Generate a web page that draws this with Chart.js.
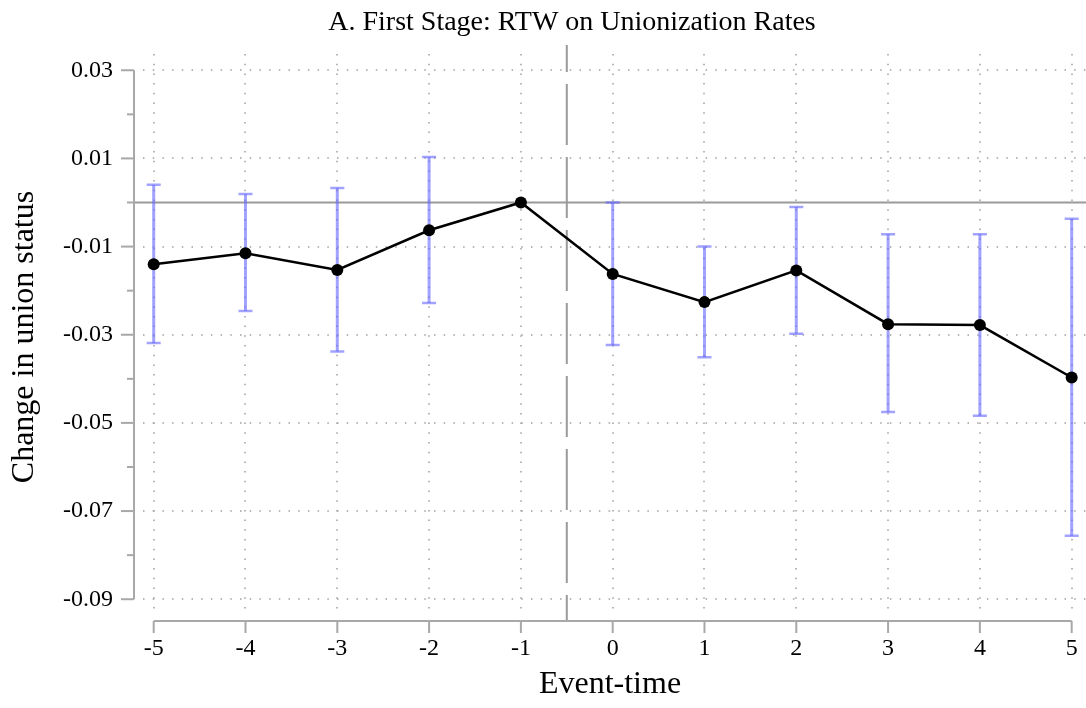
<!DOCTYPE html>
<html>
<head>
<meta charset="utf-8">
<script src="https://cdn.jsdelivr.net/npm/chart.js@4/dist/chart.umd.min.js"></script>
<style>
  html, body { margin: 0; padding: 0; background: #fff; }
  #wrap { width: 1086px; height: 708px; }
</style>
</head>
<body>
<div id="wrap"><canvas id="eventChart" width="1086" height="708"></canvas></div>
<script>
// Event-study estimates
const eventTime = [-5, -4, -3, -2, -1, 0, 1, 2, 3, 4, 5];
const coef      = [-0.0140, -0.0115, -0.0153, -0.0063, 0.0, -0.0162, -0.0226, -0.0154, -0.0276, -0.0278, -0.0397];
const ciHigh    = [0.0040, 0.0019, 0.0033, 0.0103, null, 0.0000, -0.0100, -0.0010, -0.0072, -0.0072, -0.0037];
const ciLow     = [-0.0319, -0.0246, -0.0338, -0.0228, null, -0.0323, -0.0351, -0.0298, -0.0475, -0.0484, -0.0756];

const yMajorTicks = [0.03, 0.01, -0.01, -0.03, -0.05, -0.07, -0.09];
const yMinorTicks = [0.02, 0.0, -0.02, -0.04, -0.06, -0.08];
const treatmentLine = -0.5;

const chartTitle = 'A. First Stage: RTW on Unionization Rates';

const serif = '"Liberation Serif", "Times New Roman", serif';
const axisGrey = '#a8a8a8';

// grid, reference lines, axes and error bars (all placed through the scales)
const decorations = {
    id: 'decorations',
    beforeDatasetsDraw(chart) {
        const ctx = chart.ctx;
        const area = chart.chartArea;
        const xs = chart.scales.x;
        const ys = chart.scales.y;
        ctx.save();

        // dotted grid
        ctx.strokeStyle = '#a0a0a0';
        ctx.lineWidth = 1.5;
        ctx.setLineDash([1.5, 8.2]);
        eventTime.forEach(function (t) {
            const px = Math.round(xs.getPixelForValue(t));
            ctx.beginPath();
            ctx.moveTo(px, area.top + 9);
            ctx.lineTo(px, area.bottom - 10);
            ctx.stroke();
        });
        yMajorTicks.forEach(function (v) {
            const py = Math.round(ys.getPixelForValue(v));
            ctx.beginPath();
            ctx.moveTo(area.left + 9, py);
            ctx.lineTo(area.right, py);
            ctx.stroke();
        });
        ctx.setLineDash([]);

        // zero line
        ctx.strokeStyle = '#9a9a9a';
        ctx.lineWidth = 2;
        const zeroY = ys.getPixelForValue(0);
        ctx.beginPath();
        ctx.moveTo(area.left, zeroY);
        ctx.lineTo(area.right, zeroY);
        ctx.stroke();

        // treatment timing (dashed)
        const dx = xs.getPixelForValue(treatmentLine);
        ctx.setLineDash([61, 12]);
        ctx.lineDashOffset = 34;
        ctx.beginPath();
        ctx.moveTo(dx, area.top);
        ctx.lineTo(dx, area.bottom);
        ctx.stroke();
        ctx.setLineDash([]);
        ctx.lineDashOffset = 0;

        // y axis (range frame)
        ctx.strokeStyle = axisGrey;
        ctx.lineWidth = 2;
        const yTop = ys.getPixelForValue(yMajorTicks[0]);
        const yBot = ys.getPixelForValue(yMajorTicks[yMajorTicks.length - 1]);
        ctx.beginPath();
        ctx.moveTo(area.left, yTop);
        ctx.lineTo(area.left, yBot);
        ctx.stroke();
        yMajorTicks.forEach(function (v) {
            const py = ys.getPixelForValue(v);
            ctx.beginPath();
            ctx.moveTo(area.left - 13, py);
            ctx.lineTo(area.left, py);
            ctx.stroke();
        });
        yMinorTicks.forEach(function (v) {
            const py = ys.getPixelForValue(v);
            ctx.beginPath();
            ctx.moveTo(area.left - 7, py);
            ctx.lineTo(area.left, py);
            ctx.stroke();
        });

        // x axis (range frame)
        const xl = xs.getPixelForValue(eventTime[0]);
        const xr = xs.getPixelForValue(eventTime[eventTime.length - 1]);
        ctx.beginPath();
        ctx.moveTo(xl, area.bottom);
        ctx.lineTo(xr, area.bottom);
        ctx.stroke();
        eventTime.forEach(function (t) {
            const px = xs.getPixelForValue(t);
            ctx.beginPath();
            ctx.moveTo(px, area.bottom);
            ctx.lineTo(px, area.bottom + 12);
            ctx.stroke();
        });

        // confidence intervals
        ctx.strokeStyle = 'rgba(100, 100, 255, 0.6)';
        eventTime.forEach(function (t, i) {
            if (ciLow[i] === null) return;
            const px = xs.getPixelForValue(t);
            const hi = ys.getPixelForValue(ciHigh[i]);
            const lo = ys.getPixelForValue(ciLow[i]);
            ctx.lineWidth = 3;
            ctx.beginPath();
            ctx.moveTo(px, hi);
            ctx.lineTo(px, lo);
            ctx.stroke();
            ctx.lineWidth = 2.5;
            ctx.beginPath();
            ctx.moveTo(px - 7, hi);
            ctx.lineTo(px + 7, hi);
            ctx.moveTo(px - 7, lo);
            ctx.lineTo(px + 7, lo);
            ctx.stroke();
        });

        ctx.restore();
    },
    afterDraw(chart) {
        // panel title, centred like the original rather than on the canvas
        const ctx = chart.ctx;
        ctx.save();
        ctx.fillStyle = '#000';
        ctx.font = '28px ' + serif;
        ctx.textAlign = 'center';
        ctx.textBaseline = 'middle';
        ctx.fillText(chartTitle, 572, 23);
        ctx.restore();
    }
};

const ctx = document.getElementById('eventChart').getContext('2d');

const config = {
    type: 'line',
    data: {
        datasets: [{
            label: 'Union status',
            data: eventTime.map(function (t, i) { return { x: t, y: coef[i] }; }),
            borderColor: '#000',
            backgroundColor: '#000',
            borderWidth: 2.5,
            pointRadius: 6,
            pointBackgroundColor: '#000',
            pointBorderWidth: 0,
            tension: 0,
            fill: false,
        }]
    },
    options: {
        responsive: false,
        animation: false,
        layout: { autoPadding: false, padding: { top: 45, left: 0, right: 0, bottom: 0 } },
        scales: {
            x: {
                type: 'linear',
                min: -5.2146,
                max: 5.156,
                grid: { display: false, drawTicks: false },
                border: { display: false },
                afterBuildTicks: function (scale) {
                    scale.ticks = eventTime.map(function (t) { return { value: t }; });
                },
                afterFit: function (scale) {
                    scale.height = 87;
                    scale.paddingLeft = 0;
                    scale.paddingRight = 0;
                },
                ticks: {
                    color: '#000',
                    font: { family: serif, size: 24 },
                    padding: 13,
                    maxRotation: 0,
                    autoSkip: false,
                    callback: function (v) { return String(v); }
                },
                title: {
                    display: true,
                    text: 'Event-time',
                    color: '#000',
                    font: { family: serif, size: 32 },
                    padding: { top: 0, bottom: 4 }
                }
            },
            y: {
                type: 'linear',
                min: -0.09494,
                max: 0.03573,
                grid: { display: false, drawTicks: false },
                border: { display: false },
                afterBuildTicks: function (scale) {
                    scale.ticks = yMajorTicks.map(function (v) { return { value: v }; });
                },
                afterFit: function (scale) {
                    scale.width = 134;
                    scale.paddingTop = 0;
                    scale.paddingBottom = 0;
                },
                ticks: {
                    color: '#000',
                    font: { family: serif, size: 24 },
                    padding: 21,
                    autoSkip: false,
                    callback: function (v) { return v.toFixed(2); }
                },
                title: {
                    display: true,
                    text: 'Change in union status ',
                    color: '#000',
                    font: { family: serif, size: 32 },
                    padding: { top: 5, bottom: 0 }
                }
            }
        },
        plugins: {
            legend: { display: false },
            tooltip: { enabled: false },
            title: { display: false }
        }
    },
    plugins: [decorations]
};

new Chart(ctx, config);
</script>
</body>
</html>
